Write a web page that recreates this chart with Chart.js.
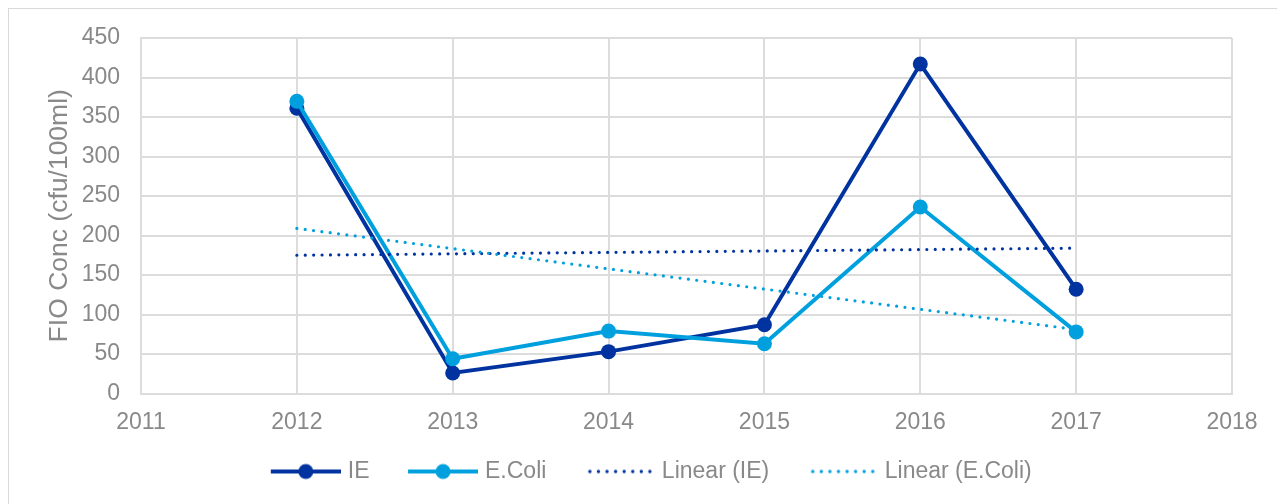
<!DOCTYPE html>
<html>
<head>
<meta charset="utf-8">
<script src="https://cdn.jsdelivr.net/npm/chart.js@4/dist/chart.umd.min.js"></script>
<style>
  html, body { margin: 0; padding: 0; background: #fff; }
  #wrap { width: 1277px; height: 504px; }
</style>
</head>
<body>
<div id="wrap"><canvas id="myChart" width="1277" height="504"></canvas></div>
<script>
// yearly FIO concentrations (cfu/100ml)
var years = [2012, 2013, 2014, 2015, 2016, 2017]
var ie = [361, 26, 53, 87, 417, 132]
var eColi = [370, 44, 79, 63, 236, 78]

// linear trendline end points
var trendYears = [2012, 2017]
var trendIE = [175, 184]
var trendEColi = [209, 81]

var seriesNames = ["IE", "E.Coli", "Linear (IE)", "Linear (E.Coli)"]
var yTitle = "FIO Conc (cfu/100ml)"

var darkBlue = "#00339f"
var lightBlue = "#00a0df"
var gridGrey = "#dcdcdc"
var textGrey = "#898989"
var fontFamily = "'Liberation Sans', Arial, sans-serif"

function toPoints(xs, ys){
    var pts = []
    for (var i = 0; i < xs.length; i++) pts.push({x: xs[i], y: ys[i]})
    return pts
}

// legend symbols: line with marker, or a row of dots
var symW = 103, symH = 20
function makeSymbol(color, dotted){
    var c = document.createElement("canvas")
    c.width = symW
    c.height = symH
    var ctx = c.getContext("2d")
    ctx.fillStyle = color
    ctx.strokeStyle = color
    if (!dotted) {
        ctx.lineWidth = 4
        ctx.beginPath()
        ctx.moveTo(symW - 70, symH / 2)
        ctx.lineTo(symW, symH / 2)
        ctx.stroke()
        ctx.beginPath()
        ctx.arc(symW - 35, symH / 2, 7.5, 0, Math.PI * 2)
        ctx.fill()
    } else {
        var end = symW - 5
        for (var i = 0; i < 8; i++) {
            ctx.beginPath()
            ctx.arc(end - 60 + i * 60 / 7, symH / 2, 1.7, 0, Math.PI * 2)
            ctx.fill()
        }
    }
    return c
}
var symbols = [
    makeSymbol(darkBlue, false),
    makeSymbol(lightBlue, false),
    makeSymbol(darkBlue, true),
    makeSymbol(lightBlue, true)
]

// thin frame round the chart
var framePlugin = {
    id: "frame",
    beforeDraw: function(chart){
        var ctx = chart.ctx
        ctx.save()
        ctx.fillStyle = "#fff"
        ctx.fillRect(0, 0, chart.width, chart.height)
        ctx.strokeStyle = "#d9d9d9"
        ctx.lineWidth = 1
        ctx.strokeRect(8.5, 8.5, chart.width, chart.height)
        ctx.restore()
    }
}

var lineSeries = function(label, data, color, order){
    return {
        label: label,
        data: data,
        borderColor: color,
        backgroundColor: color,
        borderWidth: 4,
        pointRadius: 7.5,
        pointBorderWidth: 0,
        pointBackgroundColor: color,
        tension: 0,
        order: order
    }
}
var trendSeries = function(label, data, color, order){
    return {
        label: label,
        data: data,
        borderColor: color,
        backgroundColor: color,
        borderWidth: 3.2,
        borderDash: [0, 8.4],
        borderCapStyle: "round",
        pointRadius: 0,
        tension: 0,
        order: order
    }
}

var ctxEl = document.getElementById("myChart").getContext("2d")
var chart = new Chart(ctxEl, {
    type: "line",
    data: {
        datasets: [
            lineSeries(seriesNames[0], toPoints(years, ie), darkBlue, 3),
            lineSeries(seriesNames[1], toPoints(years, eColi), lightBlue, 2),
            trendSeries(seriesNames[2], toPoints(trendYears, trendIE), darkBlue, 1),
            trendSeries(seriesNames[3], toPoints(trendYears, trendEColi), lightBlue, 0)
        ]
    },
    options: {
        responsive: false,
        animation: false,
        layout: { padding: { left: 42, right: 45, top: 38, bottom: 11 } },
        plugins: {
            tooltip: { enabled: false },
            legend: {
                position: "bottom",
                labels: {
                    usePointStyle: true,
                    pointStyleWidth: 94,
                    padding: 10,
                    color: textGrey,
                    font: { family: fontFamily, size: 23 },
                    generateLabels: function(ch){
                        return ch.data.datasets.map(function(ds, i){
                            return {
                                text: ds.label,
                                fillStyle: ds.borderColor,
                                strokeStyle: ds.borderColor,
                                lineWidth: 0,
                                pointStyle: symbols[i],
                                fontColor: textGrey,
                                hidden: false,
                                datasetIndex: i
                            }
                        })
                    }
                }
            }
        },
        scales: {
            x: {
                type: "linear",
                min: 2011,
                max: 2018,
                afterFit: function(scale){ scale.height = 56.5 },
                ticks: {
                    stepSize: 1,
                    padding: 15,
                    color: textGrey,
                    font: { family: fontFamily, size: 23 },
                    callback: function(v){ return String(v) }
                },
                grid: { color: gridGrey, lineWidth: 2, drawTicks: false },
                border: { color: gridGrey, width: 2 }
            },
            y: {
                min: 0,
                max: 450,
                afterFit: function(scale){ scale.width = 99 },
                ticks: {
                    stepSize: 50,
                    padding: 21,
                    color: textGrey,
                    font: { family: fontFamily, size: 23 }
                },
                grid: { color: gridGrey, lineWidth: 2, drawTicks: false },
                border: { color: gridGrey, width: 2 },
                title: {
                    display: true,
                    text: yTitle,
                    color: textGrey,
                    font: { family: fontFamily, size: 26.5 },
                    padding: { top: 2, bottom: 0 }
                }
            }
        }
    },
    plugins: [framePlugin]
})
</script>
</body>
</html>
